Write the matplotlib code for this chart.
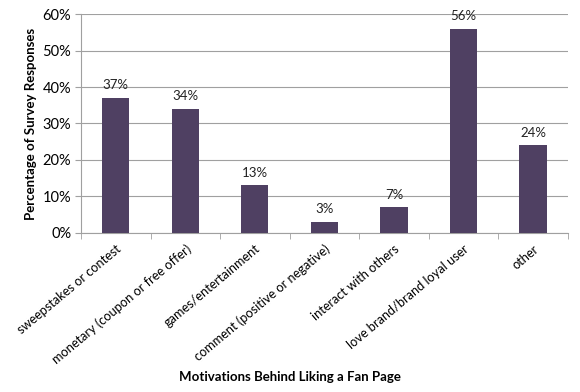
import matplotlib
matplotlib.use("Agg")
import matplotlib.pyplot as plt
from matplotlib.ticker import FixedLocator, PercentFormatter
import numpy as np

categories = ["sweepstakes or contest", "monetary (coupon or free offer)", "games/entertainment",
              "comment (positive or negative)", "interact with others", "love brand/brand loyal user", "other"]
values = [37, 34, 13, 3, 7, 56, 24]
yticks = [0, 10, 20, 30, 40, 50, 60]

plt.rcParams['font.family'] = ['Lato', 'DejaVu Sans']

fig = plt.figure(figsize=(5.8, 3.92), dpi=100)
ax = fig.add_axes([0.1397, 0.406, 0.979 - 0.1397, 0.964 - 0.406])

x = np.arange(len(categories))
bars = ax.bar(x, values, width=0.39, color="#4F4062", zorder=3)
for xi, v in zip(x, values):
    ax.text(xi, v + 1.8, f"{v}%", ha="center", va="bottom", fontsize=9.5, color="#222222")

ax.set_xlim(-0.5, len(categories) - 0.5)
ax.set_ylim(0, 60)
ax.set_yticks(yticks)
ax.yaxis.set_major_formatter(PercentFormatter(decimals=0))
ax.grid(axis="y", color="#A0A0A0", linewidth=0.8, zorder=0)
ax.set_xticks(x)
ax.set_xticklabels(categories, rotation=40, ha="right", rotation_mode="anchor", fontsize=9.2)
ax.xaxis.set_minor_locator(FixedLocator(np.arange(-0.5, len(categories), 1.0)))
ax.tick_params(axis="x", which="major", length=0, pad=7)
ax.tick_params(axis="x", which="minor", length=4, color="#A0A0A0")
ax.tick_params(axis="y", length=4, color="#A0A0A0", labelsize=10.5, pad=3)
for s in ["top", "right"]:
    ax.spines[s].set_visible(False)
for s in ["left", "bottom"]:
    ax.spines[s].set_color("#A0A0A0")
ax.set_ylabel("Percentage of Survey Responses", fontsize=9.5, fontweight="bold", labelpad=4)
fig.text(0.5, 1 - 377 / 392, "Motivations Behind Liking a Fan Page", ha="center", va="center",
         fontsize=9.5, fontweight="bold")

fig.savefig("out.png", dpi=100)
